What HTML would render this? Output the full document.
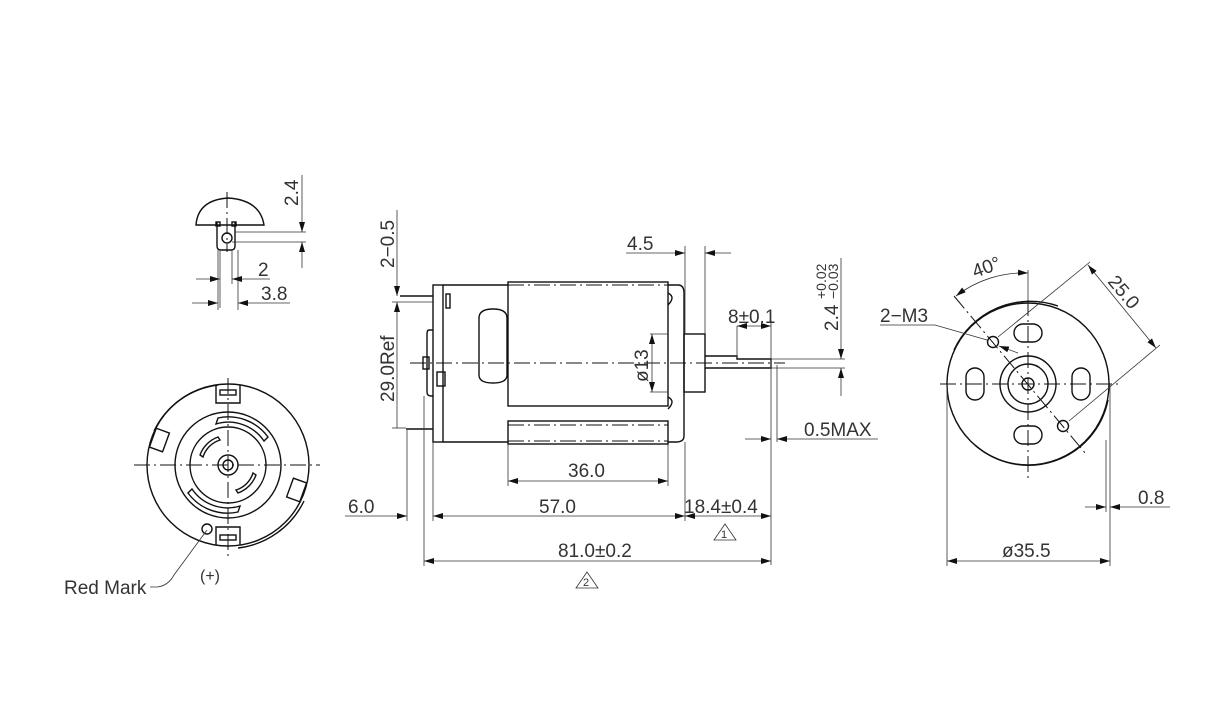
<!DOCTYPE html>
<html><head><meta charset="utf-8"><style>
html,body{margin:0;padding:0;background:#fff;}
svg{display:block;}
text{font-family:"Liberation Sans",sans-serif;font-size:19px;fill:#333;}
.l{stroke:#111;stroke-width:1.4;fill:none;}
.t{stroke:#333;stroke-width:0.8;fill:none;}
.c{stroke:#111;stroke-width:1;fill:none;stroke-dasharray:16 4 2 4;}
.a{fill:#111;stroke:none;}
</style></head><body>
<svg width="1232" height="718" viewBox="0 0 1232 718" xmlns="http://www.w3.org/2000/svg">
<defs>
<marker id="ar" viewBox="0 0 10 6" refX="10" refY="3" markerWidth="10" markerHeight="6" orient="auto-start-reverse" markerUnits="userSpaceOnUse"><path d="M0,0 L10,3 L0,6z" class="a"/></marker>
</defs>

<!-- Terminal top-left -->
<path class="l" d="M196,225 Q198,200 228,198 Q260,200 264,225 Z"/>
<path class="l" d="M217,222 V246 Q217,250 221,250 H231 Q235,250 235,246 V222"/>
<rect class="l" x="216" y="222" width="4" height="4"/><rect class="l" x="232" y="222" width="4" height="4"/>
<circle class="l" cx="227" cy="238" r="5"/>
<line class="c" x1="227" y1="192" x2="227" y2="252"/>
<line class="t" x1="235" y1="232" x2="306" y2="232"/><line class="t" x1="232" y1="242" x2="306" y2="242"/>
<line class="t" x1="302" y1="175" x2="302" y2="232" marker-end="url(#ar)"/>
<line class="t" x1="302" y1="268" x2="302" y2="242" marker-end="url(#ar)"/>
<text transform="translate(298,206) rotate(-90)">2.4</text>
<line class="t" x1="220" y1="250" x2="220" y2="308"/><line class="t" x1="232" y1="250" x2="232" y2="284"/>
<line class="t" x1="218" y1="250" x2="218" y2="310"/><line class="t" x1="238" y1="250" x2="238" y2="310"/>
<line class="t" x1="196" y1="279" x2="220" y2="279" marker-end="url(#ar)"/>
<line class="t" x1="270" y1="279" x2="232" y2="279" marker-end="url(#ar)"/>
<text x="258" y="276">2</text>
<line class="t" x1="192" y1="303" x2="218" y2="303" marker-end="url(#ar)"/>
<line class="t" x1="290" y1="303" x2="238" y2="303" marker-end="url(#ar)"/>
<text x="261" y="300">3.8</text>

<!-- Rear view -->
<g transform="translate(228,465)">
<circle class="l" r="81"/>
<path class="l" d="M-74,-34 A82,82 0 0 1 -10,-80"/>
<path class="l" d="M76,36 A84,84 0 0 1 10,83"/>
<circle class="l" r="53"/>
<circle class="l" r="38"/>
<circle class="l" r="10"/><circle class="l" r="5"/>
<path class="l" d="M-12,-80 V-62 H12 V-80 M-12,80 V62 H12 V80"/>
<rect class="l" x="-8" y="-75" width="16" height="5"/><rect class="l" x="-8" y="70" width="16" height="5"/>
<g transform="rotate(20)"><rect class="l" x="-80" y="-10" width="14" height="20"/></g>
<g transform="rotate(20)"><rect class="l" x="66" y="-10" width="14" height="20"/></g>
<g transform="scale(-1,1)">
<path class="l" d="M-40,-28 A49,49 0 0 1 10,-47 L12,-41 A43,43 0 0 0 -36,-24 Z"/>
<path class="l" d="M40,28 A49,49 0 0 1 -10,47 L-12,41 A43,43 0 0 0 36,24 Z"/>
</g>
<path class="l" d="M-28,10 A30,30 0 0 0 -10,28 L-8,25 A26,26 0 0 1 -25,8 Z" transform="scale(1,-1)"/>
<path class="l" d="M28,-10 A30,30 0 0 0 10,-28 L8,-25 A26,26 0 0 1 25,-8 Z" transform="scale(1,-1)"/>
<circle class="l" cx="-21" cy="64" r="5"/>
</g>
<line class="c" x1="134" y1="465" x2="320" y2="465"/>
<line class="c" x1="228" y1="378" x2="228" y2="556"/>
<path class="t" d="M207,530 L174,575 Q168,586 157,587 H150"/>
<text x="64" y="594">Red Mark</text>
<text x="200" y="581" style="font-size:16px">(+)</text>

<!-- Side view -->
<rect class="l" x="433" y="285" width="10" height="157"/>
<line class="l" x1="443" y1="285" x2="508" y2="285"/><line class="l" x1="443" y1="442" x2="508" y2="442"/>
<rect class="l" x="446" y="294" width="4" height="14"/>
<path class="l" d="M433,330 H429 Q427,330 427,334 V392 Q427,396 431,396 H433"/>
<rect class="l" x="423" y="357" width="6" height="12"/>
<rect class="l" x="437" y="372" width="8" height="14"/>
<line class="l" x1="400" y1="296" x2="433" y2="296"/><line class="l" x1="406" y1="429" x2="433" y2="429"/>
<rect class="l" x="508" y="282" width="160" height="124"/>
<rect class="l" x="508" y="421" width="160" height="23"/>
<line class="c" x1="508" y1="285" x2="668" y2="285"/>
<line class="c" x1="508" y1="425" x2="668" y2="425"/>
<line class="c" x1="508" y1="441" x2="668" y2="441"/>
<path class="l" d="M493,309 Q507,309 507,318 V375 Q507,383 493,383 Q479,383 479,375 V318 Q479,309 493,309 Z"/>
<path class="l" d="M668,285 H678 Q684,285 684,293 V436 Q684,442 676,442 H668"/>
<path class="l" d="M668,293 Q676,297 668,305 M668,397 Q676,401 668,409"/>
<rect class="l" x="684" y="334" width="21" height="58"/>
<path class="l" d="M705,356 H737 V359 H771 V368 H705"/>
<line class="c" x1="410" y1="363" x2="785" y2="363"/>
<!-- dims side -->
<line class="t" x1="397" y1="210" x2="397" y2="296" marker-end="url(#ar)"/>
<line class="t" x1="397" y1="428" x2="397" y2="302" marker-end="url(#ar)"/>
<line class="t" x1="392" y1="302" x2="433" y2="302"/><line class="t" x1="392" y1="428" x2="406" y2="428"/>
<text transform="translate(394,268) rotate(-90)">2−0.5</text>
<text transform="translate(394,402) rotate(-90)">29.0Ref</text>
<line class="t" x1="685" y1="246" x2="685" y2="334"/><line class="t" x1="705" y1="246" x2="705" y2="334"/>
<line class="t" x1="626" y1="253" x2="685" y2="253" marker-end="url(#ar)"/>
<line class="t" x1="731" y1="253" x2="705" y2="253" marker-end="url(#ar)"/>
<text x="627" y="250">4.5</text>
<line class="t" x1="737" y1="326" x2="737" y2="358"/><line class="t" x1="771" y1="320" x2="771" y2="565"/>
<line class="t" x1="737" y1="326" x2="771" y2="326" marker-start="url(#ar)" marker-end="url(#ar)"/>
<text x="728" y="323">8±0.1</text>
<line class="t" x1="771" y1="359" x2="845" y2="359"/><line class="t" x1="771" y1="368" x2="845" y2="368"/>
<line class="t" x1="841" y1="258" x2="841" y2="359" marker-end="url(#ar)"/>
<line class="t" x1="841" y1="396" x2="841" y2="368" marker-end="url(#ar)"/>
<text transform="translate(838,331) rotate(-90)">2.4</text>
<text transform="translate(826,299) rotate(-90)" style="font-size:14px">+0.02</text>
<text transform="translate(838,299) rotate(-90)" style="font-size:14px">−0.03</text>
<line class="t" x1="777" y1="365" x2="777" y2="442"/>
<line class="t" x1="745" y1="439" x2="771" y2="439" marker-end="url(#ar)"/>
<line class="t" x1="878" y1="439" x2="777" y2="439" marker-end="url(#ar)"/>
<text x="804" y="436">0.5MAX</text>
<line class="t" x1="650" y1="334" x2="668" y2="334"/><line class="t" x1="650" y1="392" x2="668" y2="392"/>
<line class="t" x1="652" y1="363" x2="652" y2="334" marker-end="url(#ar)"/>
<line class="t" x1="652" y1="363" x2="652" y2="392" marker-end="url(#ar)"/>
<text transform="translate(648,382) rotate(-90)">ø13</text>
<line class="t" x1="508" y1="444" x2="508" y2="486"/><line class="t" x1="668" y1="444" x2="668" y2="486"/>
<line class="t" x1="508" y1="481" x2="668" y2="481" marker-start="url(#ar)" marker-end="url(#ar)"/>
<text x="568" y="477">36.0</text>
<line class="t" x1="407" y1="430" x2="407" y2="521"/><line class="t" x1="433" y1="442" x2="433" y2="521"/>
<line class="t" x1="685" y1="442" x2="685" y2="521"/><line class="t" x1="424" y1="396" x2="424" y2="566"/>
<line class="t" x1="345" y1="516" x2="407" y2="516" marker-end="url(#ar)"/>
<line class="t" x1="433" y1="516" x2="685" y2="516" marker-start="url(#ar)" marker-end="url(#ar)"/>
<line class="t" x1="685" y1="516" x2="771" y2="516" marker-start="url(#ar)" marker-end="url(#ar)"/>
<text x="348" y="513">6.0</text><text x="539" y="513">57.0</text><text x="684" y="513">18.4±0.4</text>
<path class="t" d="M725,524 L736,540 H714 Z"/><text x="721" y="538" style="font-size:11px">1</text>
<line class="t" x1="424" y1="561" x2="771" y2="561" marker-start="url(#ar)" marker-end="url(#ar)"/>
<text x="558" y="557">81.0±0.2</text>
<path class="t" d="M587,572 L598,588 H576 Z"/><text x="583" y="586" style="font-size:11px">2</text>

<!-- Front view -->
<g transform="translate(1028,384)">
<circle class="l" r="81"/>
<path class="l" d="M-74,-34 A84,84 0 0 1 30,-78"/>
<path class="l" d="M80,16 A81,81 0 0 1 -53,61" />
<circle class="l" r="28"/><circle class="l" r="20"/><circle class="l" r="6"/>
<rect class="l" x="-14" y="-60" width="28" height="18" rx="9"/>
<rect class="l" x="-14" y="42" width="28" height="18" rx="9"/>
<rect class="l" x="-62" y="-16" width="18" height="32" rx="9"/>
<rect class="l" x="44" y="-16" width="18" height="32" rx="9"/>
<circle class="l" cx="-35" cy="-42" r="5.5"/><circle class="l" cx="35" cy="42" r="5.5"/>
</g>
<line class="c" x1="940" y1="384" x2="1122" y2="384"/>
<line class="c" x1="1028" y1="300" x2="1028" y2="478"/>
<line class="c" x1="954" y1="296" x2="1086" y2="454"/>
<line class="t" x1="1028" y1="270" x2="1028" y2="300"/>
<line class="t" x1="998" y1="337" x2="1090" y2="262"/>
<line class="t" x1="1069" y1="421" x2="1160" y2="345"/>
<line class="t" x1="1088" y1="265" x2="1156" y2="348" marker-start="url(#ar)" marker-end="url(#ar)"/>
<text transform="translate(1107,282) rotate(50)">25.0</text>
<path class="t" d="M956,296 A111,111 0 0 1 1028,273" marker-start="url(#ar)" marker-end="url(#ar)"/>
<text transform="translate(975,278) rotate(-20)">40°</text>
<text x="880" y="322">2−M3</text>
<path class="t" d="M880,325 H935 L987,340"/>
<line class="t" x1="1018" y1="353" x2="999" y2="346" marker-end="url(#ar)"/>
<line class="t" x1="947" y1="384" x2="947" y2="566"/><line class="t" x1="1110" y1="384" x2="1110" y2="566"/>
<line class="t" x1="1106" y1="440" x2="1106" y2="512"/>
<line class="t" x1="947" y1="561" x2="1110" y2="561" marker-start="url(#ar)" marker-end="url(#ar)"/>
<text x="1002" y="557">ø35.5</text>
<line class="t" x1="1085" y1="507" x2="1106" y2="507" marker-end="url(#ar)"/>
<line class="t" x1="1170" y1="507" x2="1110" y2="507" marker-end="url(#ar)"/>
<text x="1138" y="504">0.8</text>
</svg>
</body></html>
